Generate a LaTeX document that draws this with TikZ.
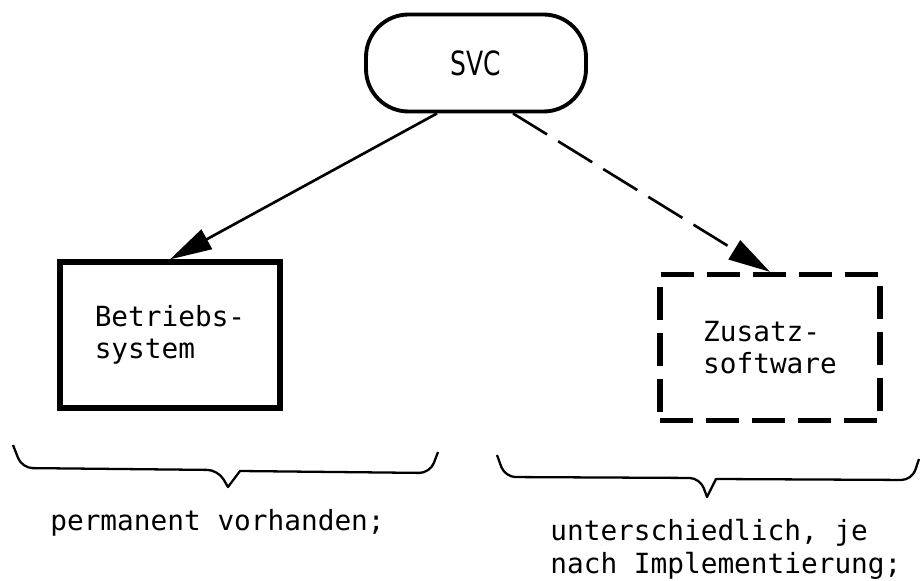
\documentclass[tikz,border=0pt]{standalone}
\usepackage{fontspec}
\setmonofont{DejaVu Sans Mono}
\newfontfamily\svcfont[FakeStretch=0.75]{DejaVu Sans}
\usetikzlibrary{arrows.meta,positioning}

\begin{document}
\begin{tikzpicture}[
    txt/.style={font=\ttfamily\fontsize{15.8}{18.5}\selectfont},
    lbl/.style={txt, inner sep=0pt, align=left},
    sysbox/.style={txt, draw, line width=3pt, minimum width=4.4cm, minimum height=2.92cm, align=left},
    zusbox/.style={sysbox, dash pattern=on 0.66cm off 0.26cm},
    arr/.style={line width=1.5pt, -{Triangle[length=0.84cm, width=0.44cm]}},
    brc/.style={line width=1.3pt, line join=round}]
  \useasboundingbox (0,0) rectangle (18.4,11.6);
  \node[draw, line width=2.2pt, rounded corners=0.85cm, minimum width=4.4cm, minimum height=1.94cm,
        font=\svcfont\fontsize{19}{20}\selectfont] (svc) at (9.52,10.34) {SVC};
  \node[sysbox] (bs) at (3.4,4.9) {Betriebs-\\system};
  \node[zusbox] (zs) at (15.4,4.65) {Zusatz-\\software};
  \draw[arr] ([xshift=-0.78cm]svc.south) -- (bs.north);
  \draw[arr, dash pattern=on 0.8cm off 0.26cm] ([xshift=0.74cm]svc.south) -- (zs.north);
  % braces
  \draw[brc] (0.26,2.70) [rounded corners=6pt] -- (0.44,2.24) -- (4.36,2.20) [sharp corners] -- (4.56,1.86)
    -- (4.80,2.18) [rounded corners=6pt] -- (8.60,2.14) -- (8.76,2.56);
  \draw[brc] (9.94,2.50) [rounded corners=6pt] -- (10.10,2.06) -- (14.0,2.04) [sharp corners] -- (14.14,1.66)
    -- (14.32,2.02) [rounded corners=6pt] -- (18.24,2.00) -- (18.38,2.42);
  \node[lbl, anchor=base west] (perm) at (1.0,1.0) {permanent vorhanden;};
  \node[lbl, anchor=north west] (unt) at (11.0,1.22) {unterschiedlich, je\\nach Implementierung;};
\end{tikzpicture}
\end{document}
